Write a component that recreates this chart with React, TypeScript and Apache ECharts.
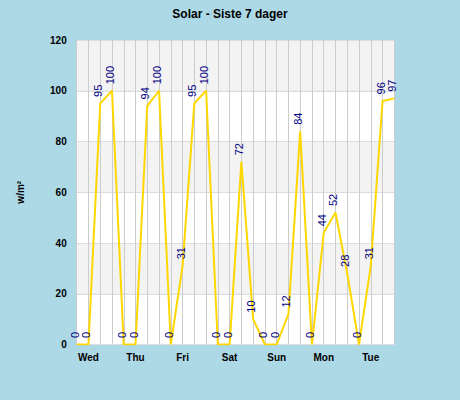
import React, { useEffect, useRef } from "react";
import * as echarts from "echarts";

const hours = [
  "Tue 18", "Wed 00", "Wed 06", "Wed 12", "Wed 18",
  "Thu 00", "Thu 06", "Thu 12", "Thu 18",
  "Fri 00", "Fri 06", "Fri 12", "Fri 18",
  "Sat 00", "Sat 06", "Sat 12", "Sat 18",
  "Sun 00", "Sun 06", "Sun 12", "Sun 18",
  "Mon 00", "Mon 06", "Mon 12", "Mon 18",
  "Tue 00", "Tue 06", "Tue 12",
];
const dayLabels: Record<string, string> = {
  "Wed 00": "Wed", "Thu 00": "Thu", "Fri 00": "Fri", "Sat 00": "Sat",
  "Sun 00": "Sun", "Mon 00": "Mon", "Tue 00": "Tue",
};
const solar = [
  0, 0, 95, 100, 0,
  0, 94, 100, 0,
  31, 95, 100, 0,
  0, 72, 10, 0,
  0, 12, 84, 0,
  44, 52, 28, 0,
  31, 96, 97,
];
const yMin = 0;
const yMax = 120;
const yStep = 20;

export default function App() {
  const ref = useRef<HTMLDivElement>(null);
  useEffect(() => {
    if (!ref.current) return;
    const chart = echarts.init(ref.current, undefined, { renderer: "svg" });
    chart.setOption({
      animation: false,
      backgroundColor: "#add8e6",
      title: {
        text: "Solar - Siste 7 dager",
        left: "center",
        top: 3,
        textStyle: { fontFamily: "Liberation Sans", fontSize: 12, fontWeight: "bold", color: "#000" },
      },
      grid: { left: 76.7, right: 65.7, top: 40, bottom: 55.5, containLabel: false },
      xAxis: {
        type: "category",
        data: hours,
        boundaryGap: false,
        axisLine: { show: false },
        axisTick: { show: false },
        axisLabel: {
          interval: 0,
          formatter: (v: string) => dayLabels[v] || "",
          fontFamily: "Liberation Sans",
          fontSize: 10,
          fontWeight: "bold",
          color: "#000",
          margin: 8,
        },
        splitLine: { show: true, interval: 0, lineStyle: { color: "#cccccc", width: 1 } },
      },
      yAxis: {
        type: "value",
        min: yMin,
        max: yMax,
        interval: yStep,
        name: "w/m²",
        nameLocation: "middle",
        nameRotate: 90,
        nameGap: 51,
        nameTextStyle: { fontFamily: "Liberation Sans", fontSize: 10, fontWeight: "bold", color: "#000" },
        axisLine: { show: false },
        axisTick: { show: false },
        axisLabel: {
          fontFamily: "Liberation Sans",
          fontSize: 10,
          fontWeight: "bold",
          color: "#000",
          margin: 10,
        },
        splitLine: { show: true, lineStyle: { color: "#dddddd", width: 1 } },
        splitArea: { show: true, areaStyle: { color: ["#ffffff", "#f3f3f3"] } },
      },
      series: [
        {
          type: "line",
          data: solar,
          showSymbol: true,
          showAllSymbol: true,
          symbol: "circle",
          symbolSize: 1,
          lineStyle: { color: "#ffd700", width: 2 },
          itemStyle: { color: "rgba(255,215,0,0)", borderWidth: 0 },
          label: {
            show: true,
            position: "top",
            rotate: 90,
            align: "left",
            verticalAlign: "middle",
            distance: 6,
            offset: [0, -2],
            fontFamily: "Liberation Sans",
            fontSize: 11,
            color: "#000080",
          },
        },
      ],
    });
    return () => chart.dispose();
  }, []);
  return (
    <div
      ref={ref}
      style={{ position: "absolute", left: 0, top: 0, width: 460, height: 400 }}
    />
  );
}
